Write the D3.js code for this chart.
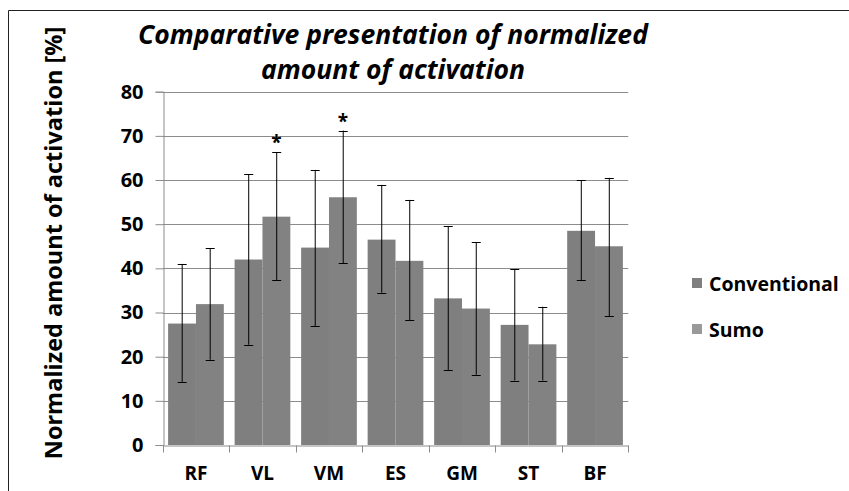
<!DOCTYPE html>
<html>
<head>
<meta charset="utf-8">
<script src="https://cdn.jsdelivr.net/npm/d3@7"></script>
<style>
  body { margin: 0; background: #fff; }
  text { font-family: "Open Sans", "Noto Sans", sans-serif; fill: #000; }
</style>
</head>
<body>
<div id="chart"></div>
<script>
const muscles = ['RF', 'VL', 'VM', 'ES', 'GM', 'ST', 'BF'];
const seriesNames = ['Conventional', 'Sumo'];
const conventional = [27.5, 42.0, 44.7, 46.5, 33.2, 27.2, 48.5];
const sumo = [31.9, 51.7, 56.1, 41.7, 30.9, 22.8, 45.0];
const conventionalLow = [14.3, 22.7, 26.9, 34.5, 17.0, 14.6, 37.3];
const conventionalHigh = [41.0, 61.3, 62.3, 58.9, 49.6, 39.8, 60.0];
const sumoLow = [19.3, 37.3, 41.2, 28.2, 15.9, 14.6, 29.2];
const sumoHigh = [44.6, 66.3, 71.2, 55.5, 45.9, 31.3, 60.5];
const significant = ['VL', 'VM'];
const yTicks = [0, 10, 20, 30, 40, 50, 60, 70, 80];
const titleLines = ['Comparative presentation of normalized', 'amount of activation'];

const width = 849;
const height = 491;
const colours = { Conventional: '#7f7f7f', Sumo: '#828282' };

const svg = d3.select('#chart')
  .append('svg')
  .attr('width', width)
  .attr('height', height);

// outer frame (only left and top visible)
svg.append('path')
  .attr('d', `M8.5,${height} V10.5 H${width}`)
  .attr('fill', 'none')
  .attr('stroke', '#222')
  .attr('stroke-width', 1);

const x0 = d3.scaleBand()
  .domain(muscles)
  .range([162.7, 628.3]);

const gap = 10.8;
const x1 = d3.scaleBand()
  .domain(seriesNames)
  .range([gap / 2, x0.bandwidth() - gap / 2]);

const y = d3.scaleLinear()
  .domain([0, 80])
  .range([445, 91.7]);

// gridlines
svg.append('g')
  .selectAll('line')
  .data(yTicks.filter(d => d > 0))
  .join('line')
  .attr('x1', x0.range()[0])
  .attr('x2', x0.range()[1])
  .attr('y1', d => Math.round(y(d)) + 0.5)
  .attr('y2', d => Math.round(y(d)) + 0.5)
  .attr('stroke', '#8c8c8c')
  .attr('stroke-width', 1);

// rows of values per muscle
const rows = muscles.map((m, i) => ({
  muscle: m,
  values: [
    { name: 'Conventional', value: conventional[i], low: conventionalLow[i], high: conventionalHigh[i] },
    { name: 'Sumo', value: sumo[i], low: sumoLow[i], high: sumoHigh[i] }
  ]
}));

const groups = svg.append('g')
  .selectAll('g')
  .data(rows)
  .join('g')
  .attr('transform', d => `translate(${x0(d.muscle)},0)`);

groups.selectAll('rect')
  .data(d => d.values)
  .join('rect')
  .attr('x', d => x1(d.name))
  .attr('width', x1.bandwidth())
  .attr('y', d => y(d.value))
  .attr('height', d => y(0) - y(d.value))
  .attr('fill', d => colours[d.name]);

// error bars
const capHalf = 4.5;
const err = groups.selectAll('g.err')
  .data(d => d.values)
  .join('g')
  .attr('class', 'err')
  .attr('stroke', '#000')
  .attr('stroke-width', 1);

err.append('line')
  .attr('x1', d => Math.round(x1(d.name) + x1.bandwidth() / 2) + 0.5)
  .attr('x2', d => Math.round(x1(d.name) + x1.bandwidth() / 2) + 0.5)
  .attr('y1', d => y(d.low))
  .attr('y2', d => y(d.high));

['low', 'high'].forEach(k => {
  err.append('line')
    .attr('x1', d => Math.round(x1(d.name) + x1.bandwidth() / 2) + 0.5 - capHalf)
    .attr('x2', d => Math.round(x1(d.name) + x1.bandwidth() / 2) + 0.5 + capHalf)
    .attr('y1', d => Math.round(y(d[k])) + 0.5)
    .attr('y2', d => Math.round(y(d[k])) + 0.5);
});

// significance asterisks above sumo bars
groups.filter(d => significant.includes(d.muscle))
  .append('text')
  .attr('x', d => x1('Sumo') + x1.bandwidth() / 2)
  .attr('y', d => y(d.values[1].high) - 3)
  .attr('text-anchor', 'middle')
  .attr('font-size', 19)
  .attr('font-weight', 'bold')
  .text('*');

// y axis
const yAxis = svg.append('g')
  .attr('transform', `translate(${Math.round(x0.range()[0]) + 0.5},0)`)
  .call(d3.axisLeft(y).tickValues(yTicks).tickSize(8).tickPadding(12));
yAxis.select('.domain').attr('stroke', '#8c8c8c');
yAxis.selectAll('.tick line').attr('stroke', '#8c8c8c');
yAxis.selectAll('.tick text')
  .attr('font-size', 20)
  .attr('font-weight', 'bold')
  .attr('font-family', '"Open Sans", sans-serif')
  .attr('fill', '#000');

// x axis
const xAxis = svg.append('g')
  .attr('transform', `translate(0,${Math.round(y(0)) + 0.5})`)
  .call(d3.axisBottom(x0).tickSize(0).tickPadding(21));
xAxis.select('.domain').attr('stroke', '#8c8c8c');
xAxis.selectAll('.tick text')
  .attr('font-size', 19)
  .attr('font-weight', 'bold')
  .attr('font-family', '"Open Sans", sans-serif')
  .attr('fill', '#000');

// category boundary ticks
xAxis.append('g')
  .selectAll('line')
  .data(muscles.concat(['end']))
  .join('line')
  .attr('x1', (d, i) => Math.round(x0.range()[0] + i * x0.step()) + 0.5)
  .attr('x2', (d, i) => Math.round(x0.range()[0] + i * x0.step()) + 0.5)
  .attr('y1', 0)
  .attr('y2', 7)
  .attr('stroke', '#8c8c8c');

// y axis title
svg.append('text')
  .attr('transform', 'translate(62,243) rotate(-90)')
  .attr('text-anchor', 'middle')
  .attr('font-size', 23.5)
  .attr('font-weight', 'bold')
  .text('Normalized amount of activation [%]');

// chart title
svg.append('g')
  .selectAll('text')
  .data(titleLines)
  .join('text')
  .attr('x', 393)
  .attr('y', (d, i) => 44 + i * 35)
  .attr('text-anchor', 'middle')
  .attr('font-size', 26.5)
  .attr('font-weight', 'bold')
  .attr('font-style', 'italic')
  .text(d => d);

// legend
const legend = svg.append('g')
  .selectAll('g')
  .data(seriesNames)
  .join('g')
  .attr('transform', (d, i) => `translate(692,${278 + i * 46})`);

legend.append('rect')
  .attr('width', 10)
  .attr('height', 10)
  .attr('fill', d => d === 'Sumo' ? '#999999' : colours[d]);

legend.append('text')
  .attr('x', 17)
  .attr('y', 13)
  .attr('font-size', 19.5)
  .attr('font-weight', 'bold')
  .text(d => d);
</script>
</body>
</html>
